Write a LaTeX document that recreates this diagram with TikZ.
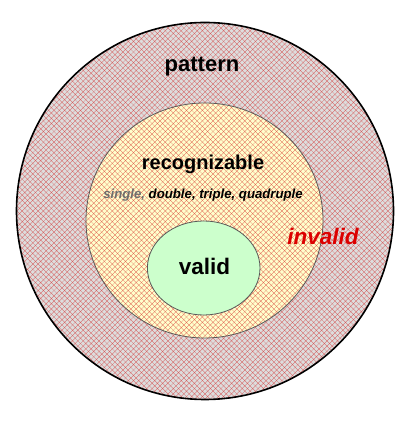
\documentclass[tikz,border=0pt]{standalone}
\usepackage{fontspec}
\setmainfont{Liberation Sans}
\definecolor{outerfill}{RGB}{221,221,221}
\definecolor{midfill}{RGB}{255,255,204}
\definecolor{validfill}{RGB}{204,255,204}
\definecolor{hatchred}{RGB}{210,20,20}
\definecolor{singlegray}{RGB}{110,110,110}
\definecolor{invalidred}{RGB}{220,0,0}
\tikzset{
  hatchline/.style={draw=hatchred, line width=0.3pt, draw opacity=0.6},
  outerborder/.style={draw=black, line width=1.6pt},
  innerborder/.style={draw=black!65, line width=0.8pt},
  lbl/.style={anchor=base, inner sep=0pt, font=\bfseries},
}
\begin{document}
\begin{tikzpicture}[x=1pt,y=1pt]
\useasboundingbox (0,0) rectangle (408,422);
% fills
\fill[outerfill] (205,211) circle (188.5);
\fill[midfill] (204.5,201.5) ellipse [x radius=118.5, y radius=117.5];
% hatch
\begin{scope}
  \clip (205,211) circle (188.5);
  \foreach \i in {0,...,160} {
    \draw[hatchline] ({\i*5.3-422},0) -- ++(422,422);
    \draw[hatchline] ({\i*5.3},0) -- ++(-422,422);
  }
\end{scope}
% borders
\draw[innerborder] (204.5,201.5) ellipse [x radius=118.5, y radius=117.5];
\draw[outerborder] (205,211) circle (188.5);
% valid
\draw[innerborder, fill=validfill] (203.7,154) ellipse [x radius=56.3, y radius=47];
% texts
\node[lbl, font=\bfseries\fontsize{22}{25}\selectfont] (pattern) at (202,350.3) {pattern};
\node[lbl, font=\bfseries\fontsize{20}{23}\selectfont] (recog) at (203,252) {recognizable};
\node[lbl, font=\bfseries\itshape\fontsize{13.2}{15}\selectfont] (kinds) at (203,223.7) {\textcolor{singlegray}{single,} double, triple, quadruple};
\node[lbl, font=\bfseries\fontsize{22.5}{25}\selectfont] (valid) at (204.5,147) {valid};
\node[lbl, font=\bfseries\itshape\fontsize{22.5}{25}\selectfont, text=invalidred] (invalid) at (323,177) {invalid};
\end{tikzpicture}
\end{document}
